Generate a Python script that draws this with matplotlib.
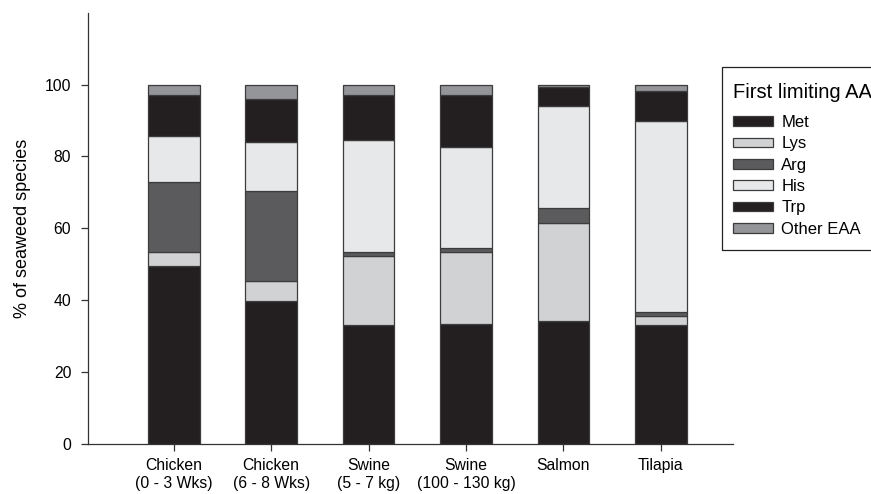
import matplotlib
matplotlib.use("Agg")
import matplotlib.pyplot as plt
from matplotlib.patches import Rectangle
import numpy as np

plt.rcParams['font.family'] = ['Liberation Sans', 'DejaVu Sans']

categories = ["Chicken\n(0 - 3 Wks)", "Chicken\n(6 - 8 Wks)", "Swine\n(5 - 7 kg)",
              "Swine\n(100 - 130 kg)", "Salmon", "Tilapia"]

# share (%) of seaweed species for which each amino acid is first limiting
met   = [49.4, 39.7, 33.1, 33.3, 34.3, 33.0]
lys   = [4.1, 5.7, 19.3, 20.1, 27.3, 2.7]
arg   = [19.3, 24.9, 1.1, 1.1, 4.0, 1.1]
his   = [13.0, 13.8, 31.2, 28.1, 28.4, 53.0]
trp   = [11.3, 12.0, 12.4, 14.5, 5.2, 8.3]
other = [2.9, 3.9, 2.9, 2.9, 0.8, 1.9]

series = [("Met", met, "#231f20"),
          ("Lys", lys, "#d1d2d4"),
          ("Arg", arg, "#5b5b5d"),
          ("His", his, "#e7e8ea"),
          ("Trp", trp, "#231f20"),
          ("Other EAA", other, "#939598")]

W, H = 871, 494
fig = plt.figure(figsize=(W / 100, H / 100), dpi=100)
ax = fig.add_axes([88 / W, 50 / H, (733 - 88) / W, (444 - 12.7) / H])

x = np.arange(len(categories))
bottom = np.zeros(len(categories))
handles = []
for name, vals, color in series:
    b = ax.bar(x, vals, width=0.53, bottom=bottom, color=color,
               edgecolor="#3c3c3c", linewidth=0.9, label=name)
    handles.append(b)
    bottom += np.array(vals)

ax.set_xlim(-0.88, 5.74)
ax.set_ylim(0, 120)
ax.set_yticks([0, 20, 40, 60, 80, 100])
ax.set_xticks(x)
ax.set_xticklabels(categories, fontsize=11.3, linespacing=1.3)
ax.tick_params(axis='y', labelsize=11.3, length=5, width=0.9, color="#333333", pad=7)
ax.tick_params(axis='x', length=5, width=0.9, color="#333333", pad=5)
for s in ("top", "right"):
    ax.spines[s].set_visible(False)
for s in ("left", "bottom"):
    ax.spines[s].set_color("#333333")
    ax.spines[s].set_linewidth(0.9)

ax.set_ylabel("% of seaweed species", fontsize=13, labelpad=10)

# legend: box, title and entries
fig.add_artist(Rectangle((722 / W, 1 - 250 / H), 170 / W, 183 / H,
                         transform=fig.transFigure, fill=False,
                         edgecolor="#222222", linewidth=0.9, clip_on=False))
fig.text(733 / W, 1 - 98 / H, "First limiting AA", fontsize=14.5,
         ha="left", va="baseline")
fig.legend(handles=handles, loc="upper left",
           bbox_to_anchor=(733 / W, 1 - 115 / H), borderaxespad=0, borderpad=0,
           fontsize=12, frameon=False,
           handlelength=2.4, handleheight=0.5, handletextpad=0.5,
           labelspacing=0.38)

fig.savefig("out.png", dpi=100)
